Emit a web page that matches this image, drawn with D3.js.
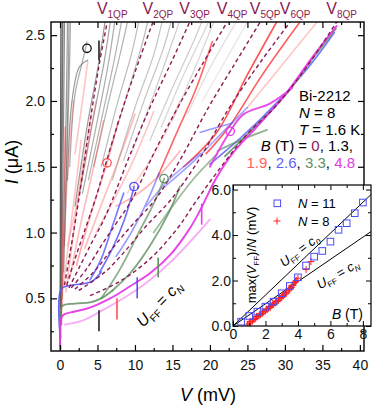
<!DOCTYPE html>
<html><head><meta charset="utf-8">
<script src="https://cdn.jsdelivr.net/npm/d3@7"></script>
<style>body{margin:0;background:#fff}svg{display:block;font-family:"Liberation Sans",Arial,sans-serif}</style>
</head><body><svg id="c" width="374" height="405"></svg>
<script>
// ---------- data ----------
const qpLabels = ["1QP","2QP","3QP","4QP","5QP","6QP","8QP"];
const qpCurves = [
  [[0.6,0.6],[1.2,0.8],[1.8,1.0],[2.5,1.25],[3.4,1.6],[4.3,1.95],[5.3,2.3],[6.3,2.6]],
  [[0.9,0.6],[2.0,0.8],[3.2,1.0],[4.7,1.25],[6.5,1.6],[8.4,1.95],[10.5,2.3],[12.4,2.6]],
  [[1.2,0.58],[2.7,0.75],[4.3,0.93],[5.7,1.08],[7.0,1.25],[9.4,1.6],[12.0,1.95],[14.9,2.3],[17.3,2.6]],
  [[1.5,0.58],[3.5,0.72],[5.5,0.9],[7.5,1.07],[9.6,1.25],[12.5,1.6],[15.7,1.95],[19.2,2.3],[22.3,2.6]],
  [[2.0,0.57],[4.5,0.7],[7.0,0.88],[9.5,1.05],[12.7,1.25],[16.0,1.55],[19.8,1.95],[23.5,2.3],[26.7,2.6]],
  [[2.5,0.56],[6.0,0.7],[9.0,0.88],[11.5,1.05],[14.8,1.25],[18.5,1.55],[22.6,1.95],[26.8,2.3],[30.7,2.6]],
  [[4.0,0.52],[8.0,0.63],[12.0,0.8],[15.5,1.02],[18.3,1.25],[21.5,1.5],[25.0,1.75],[28.6,1.95],[32.8,2.25],[36.9,2.6]]
];
const grayTraces = [
 [[0.0,0.1],[0.02,0.6],[0.06,1.5],[0.12,2.6]],
 [[0.05,0.15],[0.1,0.7],[0.2,1.6],[0.3,2.6]],
 [[0.1,0.2],[0.15,0.8],[0.3,1.8],[0.4,2.6]],
 [[0.15,0.3],[0.3,1.0],[0.5,2.0],[0.6,2.6]],
 [[0.3,0.5],[0.55,1.2],[0.85,2.0],[1.0,2.6]],
 [[0.5,0.7],[0.75,1.3],[1.05,2.0],[1.2,2.6]],
 [[0.6,0.9],[0.9,1.5],[1.2,2.1],[1.4,2.6]],
 [[1.0,1.4],[1.6,2.0],[2.6,2.26],[3.7,2.31]],
 [[1.3,1.5],[2.0,2.05],[3.0,2.3],[3.6,2.45]],
 [[2.0,1.2],[3.6,1.8],[5.2,2.3],[6.0,2.6]],
 [[2.6,1.3],[4.2,1.8],[5.9,2.3],[6.7,2.6]],
 [[3.0,1.3],[4.8,1.8],[6.5,2.3],[7.3,2.6]],
 [[3.8,1.4],[5.5,1.85],[7.2,2.3],[8.2,2.6]],
 [[4.5,1.5],[6.3,1.95],[8.0,2.35],[9.0,2.6]],
 [[5.5,1.5],[7.5,1.95],[9.5,2.35],[10.5,2.6]],
 [[6.5,1.6],[8.7,2.0],[10.8,2.4],[11.7,2.6]],
 [[7.0,1.4],[10.0,1.95],[12.5,2.35],[13.6,2.6]],
 [[8.5,1.55],[11.2,2.0],[13.8,2.4],[14.8,2.6]],
 [[9.5,1.6],[12.5,2.05],[15.0,2.45],[15.9,2.6]],
 [[12.0,1.7],[15.0,2.1],[17.8,2.45],[18.9,2.6]],
 [[13.5,1.8],[16.5,2.2],[19.0,2.5],[19.8,2.6]],
 [[15.0,1.85],[18.0,2.25],[20.5,2.6]],
 [[17.0,1.9],[20.0,2.25],[23.5,2.6]],
 [[19.0,2.0],[22.0,2.3],[25.0,2.6]]
];
const grayAlpha = [0.95,0.8,0.7,0.7,0.6,0.55,0.5,0.6,0.5,0.6,0.55,0.5,0.45,0.45,0.4,0.4,0.35,0.35,0.3,0.3,0.25,0.25,0.2,0.15];
const redTraces = [
 [[0.3,0.45],[0.6,1.0],[1.2,1.6],[1.8,2.0]],
 [[0.8,0.55],[1.8,1.0],[3.0,1.5],[4.2,1.9]],
 [[1.3,0.65],[2.7,1.05],[4.5,1.5],[5.8,1.85]],
 [[2.2,0.75],[4.0,1.12],[6.27,1.53],[7.8,1.85]],
 [[3.3,0.88],[5.3,1.18],[7.8,1.55],[10.0,1.9]],
 [[4.8,1.0],[7.2,1.25],[9.8,1.55],[12.5,1.92]],
 [[7.5,1.2],[10.5,1.3],[13.5,1.45],[16.0,1.62]],
 [[13.0,1.42],[15.5,1.75],[18.2,2.1],[20.3,2.45]],
 [[16.5,1.5],[20.9,1.76],[25.0,2.2],[28.9,2.6]],
 [[19.5,1.6],[22.5,1.8],[27.0,2.2],[32.0,2.6]],
 [[25.0,1.95],[30.0,2.3],[34.3,2.6]],
 [[2.0,1.6],[3.0,2.0],[3.7,2.3]],
 [[0.2,0.3],[0.3,0.8],[0.5,1.3],[0.7,1.8]],
 [[1.0,0.9],[2.2,1.2],[3.6,1.6],[4.8,2.0]],
 [[0.5,0.6],[1.2,0.95],[2.0,1.3],[2.8,1.7]],
 [[9.0,1.3],[11.5,1.5],[14.0,1.75],[16.0,2.0]]
];
const redAlpha = [0.3,0.35,0.35,0.45,0.35,0.3,0.4,0.8,0.9,0.85,0.3,0.3,0.5,0.25,0.3,0.25];
const blueTraces = [
 [[0.05,0.2],[0.15,0.57],[1.5,0.6],[3.0,0.61],[4.3,0.63],[5.5,0.7]],
 [[4.0,0.64],[5.5,0.8],[7.0,1.05],[8.5,1.3]],
 [[5.3,0.7],[7.0,0.88],[8.6,1.1],[9.9,1.35]],
 [[7.5,0.82],[9.5,1.0],[11.5,1.22],[13.2,1.45]],
 [[11.5,1.2],[14.5,1.4],[16.5,1.5],[18.7,1.6]],
 [[14.0,1.35],[18.0,1.55],[22.0,1.78],[25.0,1.95]],
 [[20.0,1.52],[24.5,1.74],[28.8,1.98],[33.2,2.26],[36.6,2.52]],
 [[18.7,1.76],[21.0,1.8],[23.0,1.83]]
];
const blueAlpha = [0.9,0.8,0.85,0.6,0.5,0.55,0.8,0.6];
const greenTraces = [
 [[0.05,0.2],[0.3,0.44],[2.0,0.46],[4.0,0.47],[5.5,0.5],[7.0,0.56]],
 [[7.0,0.56],[9.5,0.7],[12.0,0.9],[14.5,1.15],[16.0,1.35]],
 [[5.5,0.5],[8.0,0.72],[10.5,1.0],[12.5,1.22],[13.9,1.41]],
 [[12.5,1.0],[15.0,1.2],[18.0,1.42],[21.0,1.6]],
 [[21.0,1.62],[24.0,1.7],[27.6,1.78]],
 [[22.0,1.58],[26.3,1.82],[30.3,2.06],[33.8,2.33],[36.8,2.55]]
];
const greenAlpha = [0.85,0.8,0.7,0.6,0.7,0.85];
const magentaTraces = [
 [[0.05,0.12],[0.15,0.35],[0.6,0.38],[2.0,0.4],[4.0,0.43],[6.7,0.5],[9.3,0.59],[12.0,0.69],[14.7,0.83],[17.3,1.03],[18.7,1.17],[20.7,1.4],[23.0,1.6],[26.2,1.8],[30.2,2.06],[33.5,2.32],[36.9,2.57]],
 [[0.6,0.3],[3.0,0.33],[6.0,0.42],[9.0,0.52],[12.0,0.64],[15.0,0.79],[18.0,0.97],[20.0,1.1]],
 [[20.0,1.5],[22.7,1.77],[24.5,1.9],[28.0,1.98],[31.0,2.1]]
];
const magentaAlpha = [0.95,0.4,0.9];
const barV  = [5.2, 7.6, 10.3, 13.1, 18.9, 5.2];
const barI0 = [0.25,0.34,0.50,0.66,1.06,2.31];
const barI1 = [0.41,0.50,0.66,0.81,1.22,2.46];
const circV = [3.6, 6.27, 9.87, 13.87, 22.7];
const circI = [2.40, 1.53, 1.35, 1.41, 1.77];
const xMajor = [0,5,10,15,20,25,30,35,40];
const xMinor = [2.5,7.5,12.5,17.5,22.5,27.5,32.5,37.5];
const yMajor = [0.5,1.0,1.5,2.0,2.5];
const yMinor = [0.25,0.75,1.25,1.75,2.25];
// inset data
const n11B = [0.5,1.0,1.5,2.0,2.5,3.0,3.5,4.0,4.5,5.0,5.5,6.0,6.5,7.0,7.5,8.0];
const n11V = [0.19,0.44,0.63,0.85,1.07,1.44,1.76,2.14,2.66,3.05,3.30,3.71,4.23,4.52,4.96,5.43];
const n8B = [0.9,1.0,1.05,1.1,1.2,1.25,1.3,1.4,1.45,1.5,1.6,1.65,1.7,1.8,1.85,1.9,2.0,2.05,2.1,2.2,2.25,2.3,2.4,2.45,2.5,2.6,2.65,2.7,2.8,2.85,2.9,3.0,3.05,3.1,3.2,3.25,3.3,3.4,3.45,3.5,3.6,3.65,3.7,3.8,3.85,3.9,4.0,4.5,4.8];
const n8V = [0.05,0.12,0.2,0.18,0.22,0.3,0.3,0.33,0.42,0.4,0.45,0.52,0.5,0.55,0.62,0.62,0.66,0.75,0.72,0.78,0.86,0.82,0.9,0.98,0.95,1.02,1.1,1.08,1.12,1.22,1.2,1.25,1.35,1.32,1.4,1.48,1.45,1.55,1.65,1.62,1.7,1.78,1.8,1.9,1.95,2.0,2.1,2.48,2.83];
const lineC0 = [[0,0],[8.5,5.78]];
const lineCN = [[0,0],[8.5,4.15]];
const insetXMajor=[0,2,4,6,8], insetXMinor=[1,3,5,7];
const insetYMajor=[0,2,4,6], insetYMinor=[1,3,5];

// ---------- drawing ----------
const svg = d3.select("#c");
svg.append("rect").attr("width",374).attr("height",405).attr("fill","#fff");
const x = d3.scaleLinear().domain([-1.2,40.55]).range([51,364]);
const y = d3.scaleLinear().domain([0.1,2.6]).range([351,22]);
const X0=51,X1=364,Y0=22,Y1=351;
const maroon="#8b1a52";
svg.append("clipPath").attr("id","cp").append("rect").attr("x",X0).attr("y",Y0).attr("width",X1-X0).attr("height",Y1-Y0);
const plot = svg.append("g").attr("clip-path","url(#cp)");
const line = d3.line().x(d=>x(d[0])).y(d=>y(d[1])).curve(d3.curveCatmullRom.alpha(0.5));

function drawSet(traces, alphas, color, w){
  traces.forEach((t,i)=>{
    plot.append("path").attr("d",line(t)).attr("fill","none").attr("stroke",color)
      .attr("stroke-width",w).attr("stroke-opacity",alphas[i]).attr("stroke-linecap","round");
  });
}
drawSet(grayTraces, grayAlpha, "#555", 1.2);
drawSet(redTraces, redAlpha, "#ff4040", 1.6);
drawSet(blueTraces, blueAlpha, "#5555ff", 1.6);
drawSet(greenTraces, greenAlpha, "#5f8f5f", 1.8);
drawSet(magentaTraces, magentaAlpha, "#e838e8", 1.9);

qpCurves.forEach(c=>{
  plot.append("path").attr("d",line(c)).attr("fill","none").attr("stroke",maroon)
   .attr("stroke-width",1.4).attr("stroke-dasharray","4,3");
});
const barColors=["#222","#ff5050","#5050ff","#5f8f5f","#e838e8","#222"];
barV.forEach((v,i)=>{
  svg.append("line").attr("x1",x(v)).attr("x2",x(v)).attr("y1",y(barI0[i])).attr("y2",y(barI1[i]))
   .attr("stroke",barColors[i]).attr("stroke-width",1.6);
});
const circColors=["#111","#ff5050","#5050ff","#5f8f5f","#e838e8"];
circV.forEach((v,i)=>{
  svg.append("circle").attr("cx",x(v)).attr("cy",y(circI[i])).attr("r",4.2)
   .attr("fill","none").attr("stroke",circColors[i]).attr("stroke-width",1.3);
});

// top labels
qpCurves.forEach((c,i)=>{
  const top=c[c.length-1];
  const t=svg.append("text").attr("x",x(top[0])+5).attr("y",14).attr("text-anchor","middle")
    .attr("fill",maroon).attr("font-size",16);
  t.append("tspan").text("V");
  t.append("tspan").attr("font-size",10).attr("dy",4).text(qpLabels[i]);
});

// axes (main)
function axisG(gen, tr){ return svg.append("g").attr("transform",tr).call(gen); }
const fmt1=d3.format(".1f");
axisG(d3.axisBottom(x).tickValues(xMajor).tickSize(-6).tickPadding(9),`translate(0,${Y1})`);
axisG(d3.axisBottom(x).tickValues(xMinor).tickSize(-3).tickFormat(""),`translate(0,${Y1})`);
axisG(d3.axisTop(x).tickValues(xMajor).tickSize(-6).tickFormat(""),`translate(0,${Y0})`);
axisG(d3.axisTop(x).tickValues(xMinor).tickSize(-3).tickFormat(""),`translate(0,${Y0})`);
axisG(d3.axisLeft(y).tickValues(yMajor).tickSize(-6).tickPadding(6).tickFormat(fmt1),`translate(${X0},0)`);
axisG(d3.axisLeft(y).tickValues(yMinor).tickSize(-3).tickFormat(""),`translate(${X0},0)`);
axisG(d3.axisRight(y).tickValues(yMajor).tickSize(-6).tickFormat(""),`translate(${X1},0)`);
axisG(d3.axisRight(y).tickValues(yMinor).tickSize(-3).tickFormat(""),`translate(${X1},0)`);
svg.selectAll(".domain").remove();
svg.selectAll(".tick line").attr("stroke","#000").attr("stroke-width",1.2);
svg.selectAll(".tick text").attr("font-size",14).attr("font-family","Liberation Sans, Arial, sans-serif").attr("fill","#111");
svg.append("rect").attr("x",X0).attr("y",Y0).attr("width",X1-X0).attr("height",Y1-Y0)
  .attr("fill","none").attr("stroke","#000").attr("stroke-width",1.4);

// axis titles
const yl=svg.append("text").attr("transform","translate(18,162) rotate(-90)").attr("text-anchor","middle").attr("font-size",18);
yl.append("tspan").attr("font-style","italic").text("I");
yl.append("tspan").text(" (\u03bcA)");
const xl=svg.append("text").attr("x",208).attr("y",401).attr("text-anchor","middle").attr("font-size",18);
xl.append("tspan").attr("font-style","italic").text("V");
xl.append("tspan").text(" (mV)");

// U_FF = c_N text
const ut=svg.append("text").attr("transform","translate(143,328) rotate(-46)").attr("font-size",16);
ut.append("tspan").attr("font-style","italic").text("U");
ut.append("tspan").attr("font-size",10).attr("dy",4).text("FF");
ut.append("tspan").attr("dy",-4).text(" = ");
ut.append("tspan").attr("font-style","italic").text("c");
ut.append("tspan").attr("font-size",10).attr("font-style","italic").attr("dy",4).text("N");

// info block
const fs=15;
svg.append("text").attr("x",299).attr("y",101).attr("font-size",fs).text("Bi-2212");
const n8=svg.append("text").attr("x",299).attr("y",118).attr("font-size",fs);
n8.append("tspan").attr("font-style","italic").text("N");n8.append("tspan").text(" = 8");
const tt=svg.append("text").attr("x",299).attr("y",135).attr("font-size",fs);
tt.append("tspan").attr("font-style","italic").text("T");tt.append("tspan").text(" = 1.6 K");
const bt=svg.append("text").attr("x",353).attr("y",151).attr("font-size",fs).attr("text-anchor","end");
bt.append("tspan").attr("font-style","italic").text("B");bt.append("tspan").text(" (T) = ");
bt.append("tspan").attr("fill",maroon).text("0");bt.append("tspan").text(", 1.3,");
const ct=svg.append("text").attr("x",355).attr("y",168).attr("font-size",fs).attr("text-anchor","end");
[["1.9","#ff6060"],[", ","#000"],["2.6","#6060ff"],[", ","#000"],["3.3","#5f8f5f"],[", ","#000"],["4.8","#e040e0"]]
  .forEach(p=>ct.append("tspan").attr("fill",p[1]).text(p[0]));

// ---------- inset ----------
const ix=d3.scaleLinear().domain([0,8.5]).range([233,371]);
const iy=d3.scaleLinear().domain([0,6.2]).range([326,185]);
const IX0=233,IX1=371,IY0=185,IY1=326;
svg.append("rect").attr("x",IX0).attr("y",IY0).attr("width",IX1-IX0).attr("height",IY1-IY0).attr("fill","#fff");
svg.append("clipPath").attr("id","icp").append("rect").attr("x",IX0).attr("y",IY0).attr("width",IX1-IX0).attr("height",IY1-IY0);
const ig=svg.append("g").attr("clip-path","url(#icp)");
const sl=d3.line().x(d=>ix(d[0])).y(d=>iy(d[1]));
ig.append("path").attr("d",sl(lineC0)).attr("stroke","#000").attr("stroke-width",1);
ig.append("path").attr("d",sl(lineCN)).attr("stroke","#000").attr("stroke-width",1);
n8B.forEach((b,i)=>{
  const cx=ix(b),cy=iy(n8V[i]);
  ig.append("path").attr("d",`M${cx-3.5},${cy}H${cx+3.5}M${cx},${cy-3.5}V${cy+3.5}`).attr("stroke","#ff2020").attr("stroke-width",1);
});
n11B.forEach((b,i)=>{
  ig.append("rect").attr("x",ix(b)-3.3).attr("y",iy(n11V[i])-3.3).attr("width",6.6).attr("height",6.6)
   .attr("fill","none").attr("stroke","#4a4aff").attr("stroke-width",1);
});
const ia=[];
ia.push(axisG(d3.axisBottom(ix).tickValues(insetXMajor).tickSize(-5).tickPadding(3),`translate(0,${IY1})`));
ia.push(axisG(d3.axisBottom(ix).tickValues(insetXMinor).tickSize(-3).tickFormat(""),`translate(0,${IY1})`));
ia.push(axisG(d3.axisTop(ix).tickValues(insetXMajor).tickSize(-5).tickFormat(""),`translate(0,${IY0})`));
ia.push(axisG(d3.axisTop(ix).tickValues(insetXMinor).tickSize(-3).tickFormat(""),`translate(0,${IY0})`));
ia.push(axisG(d3.axisLeft(iy).tickValues(insetYMajor).tickSize(-5).tickPadding(2),`translate(${IX0},0)`));
ia.push(axisG(d3.axisLeft(iy).tickValues(insetYMinor).tickSize(-3).tickFormat(""),`translate(${IX0},0)`));
ia.push(axisG(d3.axisRight(iy).tickValues(insetYMajor).tickSize(-5).tickFormat(""),`translate(${IX1},0)`));
ia.push(axisG(d3.axisRight(iy).tickValues(insetYMinor).tickSize(-3).tickFormat(""),`translate(${IX1},0)`));
ia.forEach(g=>{g.select(".domain").remove();g.selectAll(".tick line").attr("stroke","#000").attr("stroke-width",1);
  g.selectAll(".tick text").attr("font-size",14).attr("fill","#111").attr("font-family","Liberation Sans, Arial, sans-serif");});
svg.append("rect").attr("x",IX0).attr("y",IY0).attr("width",IX1-IX0).attr("height",IY1-IY0)
  .attr("fill","none").attr("stroke","#000").attr("stroke-width",1.2);
// inset texts
const iyl=svg.append("text").attr("transform","translate(256,255) rotate(-90)").attr("text-anchor","middle").attr("font-size",13);
iyl.append("tspan").text("max(");
iyl.append("tspan").attr("font-style","italic").text("V");
iyl.append("tspan").attr("font-size",8).attr("dy",3).text("FF");
iyl.append("tspan").attr("dy",-3).text(")/");
iyl.append("tspan").attr("font-style","italic").text("N");
iyl.append("tspan").text(" (mV)");
const ibl=svg.append("text").attr("x",363).attr("y",319).attr("text-anchor","end").attr("font-size",14);
ibl.append("tspan").attr("font-style","italic").text("B");ibl.append("tspan").text(" (T)");
svg.append("rect").attr("x",274).attr("y",200).attr("width",6.6).attr("height",6.6).attr("fill","none").attr("stroke","#4a4aff");
svg.append("path").attr("d","M273.5,221H280.5M277,217.5V224.5").attr("stroke","#ff2020");
const l1=svg.append("text").attr("x",298).attr("y",208).attr("font-size",13);
l1.append("tspan").attr("font-style","italic").text("N");l1.append("tspan").text(" = 11");
const l2=svg.append("text").attr("x",298).attr("y",226).attr("font-size",13);
l2.append("tspan").attr("font-style","italic").text("N");l2.append("tspan").text(" = 8");
function rotText(tx,ty,ang,sub){
  const t=svg.append("text").attr("transform",`translate(${tx},${ty}) rotate(${ang})`).attr("text-anchor","middle").attr("font-size",13);
  t.append("tspan").attr("font-style","italic").text("U");
  t.append("tspan").attr("font-size",8).attr("dy",3).text("FF");
  t.append("tspan").attr("dy",-3).text(" = ");
  t.append("tspan").attr("font-style","italic").text("c");
  t.append("tspan").attr("font-size",8).attr("font-style","italic").attr("dy",3).text(sub);
}
rotText(302,254,-37,"0");
rotText(340,278,-30,"N");
</script></body></html>
